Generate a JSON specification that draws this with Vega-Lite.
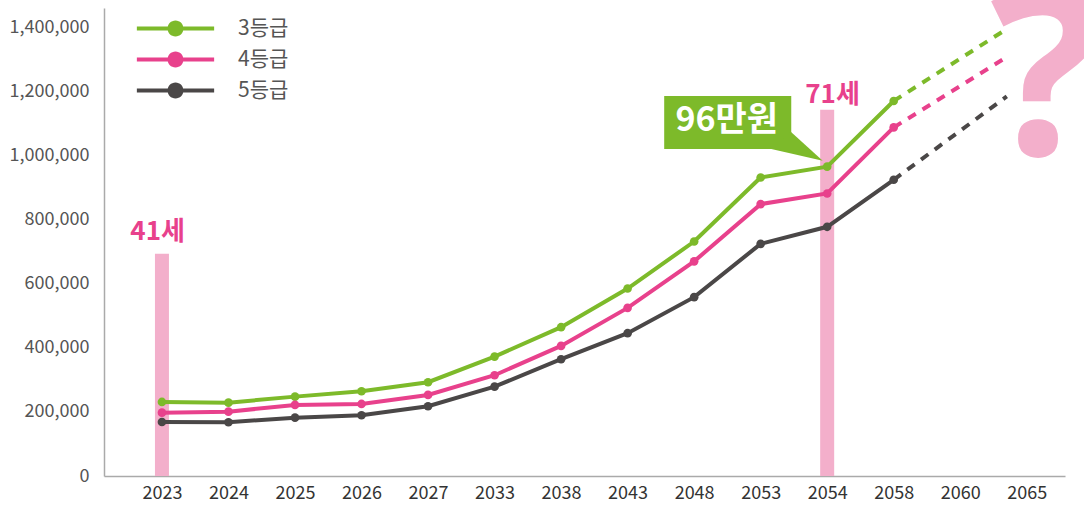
{
  "$schema": "https://vega.github.io/schema/vega-lite/v6.json",
  "width": 961,
  "height": 468,
  "autosize": {"type": "none"},
  "padding": {"left": 104, "top": 8, "right": 19, "bottom": 31},
  "background": "white",
  "config": {"view": {"stroke": null}, "font": "Noto Sans CJK KR"},
  "datasets": {
    "series": [
      {"s": "3등급", "year": "2023", "pos": 0, "v": 231000, "seg": "solid"},
      {"s": "3등급", "year": "2024", "pos": 1, "v": 228800, "seg": "solid"},
      {"s": "3등급", "year": "2025", "pos": 2, "v": 247600, "seg": "solid"},
      {"s": "3등급", "year": "2026", "pos": 3, "v": 264400, "seg": "solid"},
      {"s": "3등급", "year": "2027", "pos": 4, "v": 292500, "seg": "solid"},
      {"s": "3등급", "year": "2033", "pos": 5, "v": 372500, "seg": "solid"},
      {"s": "3등급", "year": "2038", "pos": 6, "v": 464200, "seg": "solid"},
      {"s": "3등급", "year": "2043", "pos": 7, "v": 584800, "seg": "solid"},
      {"s": "3등급", "year": "2048", "pos": 8, "v": 731500, "seg": "solid"},
      {"s": "3등급", "year": "2053", "pos": 9, "v": 931300, "seg": "solid"},
      {"s": "3등급", "year": "2054", "pos": 10, "v": 965000, "seg": "solid"},
      {"s": "3등급", "year": "2058", "pos": 11, "v": 1170000, "seg": "solid"},
      {"s": "3등급", "year": "2058", "pos": 11, "v": 1170000, "seg": "dash"},
      {"s": "3등급", "year": "2063", "pos": 12.7, "v": 1394600, "seg": "dash"},
      {"s": "4등급", "year": "2023", "pos": 0, "v": 197600, "seg": "solid"},
      {"s": "4등급", "year": "2024", "pos": 1, "v": 200700, "seg": "solid"},
      {"s": "4등급", "year": "2025", "pos": 2, "v": 221700, "seg": "solid"},
      {"s": "4등급", "year": "2026", "pos": 3, "v": 224800, "seg": "solid"},
      {"s": "4등급", "year": "2027", "pos": 4, "v": 252900, "seg": "solid"},
      {"s": "4등급", "year": "2033", "pos": 5, "v": 314400, "seg": "solid"},
      {"s": "4등급", "year": "2038", "pos": 6, "v": 405900, "seg": "solid"},
      {"s": "4등급", "year": "2043", "pos": 7, "v": 524500, "seg": "solid"},
      {"s": "4등급", "year": "2048", "pos": 8, "v": 669700, "seg": "solid"},
      {"s": "4등급", "year": "2053", "pos": 9, "v": 848200, "seg": "solid"},
      {"s": "4등급", "year": "2054", "pos": 10, "v": 881300, "seg": "solid"},
      {"s": "4등급", "year": "2058", "pos": 11, "v": 1087400, "seg": "solid"},
      {"s": "4등급", "year": "2058", "pos": 11, "v": 1087400, "seg": "dash"},
      {"s": "4등급", "year": "2063", "pos": 12.7, "v": 1307200, "seg": "dash"},
      {"s": "5등급", "year": "2023", "pos": 0, "v": 168600, "seg": "solid"},
      {"s": "5등급", "year": "2024", "pos": 1, "v": 167700, "seg": "solid"},
      {"s": "5등급", "year": "2025", "pos": 2, "v": 182000, "seg": "solid"},
      {"s": "5등급", "year": "2026", "pos": 3, "v": 189500, "seg": "solid"},
      {"s": "5등급", "year": "2027", "pos": 4, "v": 217600, "seg": "solid"},
      {"s": "5등급", "year": "2033", "pos": 5, "v": 278800, "seg": "solid"},
      {"s": "5등급", "year": "2038", "pos": 6, "v": 364300, "seg": "solid"},
      {"s": "5등급", "year": "2043", "pos": 7, "v": 445500, "seg": "solid"},
      {"s": "5등급", "year": "2048", "pos": 8, "v": 557900, "seg": "solid"},
      {"s": "5등급", "year": "2053", "pos": 9, "v": 724300, "seg": "solid"},
      {"s": "5등급", "year": "2054", "pos": 10, "v": 777400, "seg": "solid"},
      {"s": "5등급", "year": "2058", "pos": 11, "v": 924100, "seg": "solid"},
      {"s": "5등급", "year": "2058", "pos": 11, "v": 924100, "seg": "dash"},
      {"s": "5등급", "year": "2063", "pos": 12.7, "v": 1184200, "seg": "dash"}
    ],
    "bars": [
      {"pos": 0, "v": 693000},
      {"pos": 10, "v": 1142700}
    ],
    "agelabels": [
      {"pos": -0.065, "v": 736800, "t": "41세"},
      {"pos": 10.08, "v": 1164500, "t": "71세"}
    ],
    "question": [
      {"pos": 13.28, "v": 1001500, "t": "?"}
    ],
    "callbox": [
      {"pos": 7.55, "pos2": 9.46, "v": 1020200, "v2": 1185600}
    ],
    "pointer": [
      {"pos": 9.16, "v": 1020240, "v2": 1020240},
      {"pos": 9.457, "v": 1073300, "v2": 1006200},
      {"pos": 9.933, "v": 983700, "v2": 983700}
    ],
    "calltext": [
      {"pos": 8.49, "v": 1107600, "t": "96만원"}
    ]
  },
  "encoding": {
    "x": {
      "field": "pos",
      "type": "quantitative",
      "scale": {"domain": [-0.796, 13.5], "nice": false, "zero": false},
      "axis": {
        "values": [0, 1, 2, 3, 4, 5, 6, 7, 8, 9, 10, 11, 12, 13],
        "labelExpr": "['2023','2024','2025','2026','2027','2033','2038','2043','2048','2053','2054','2058','2060','2065'][datum.value]",
        "title": null,
        "grid": false,
        "ticks": false,
        "domainColor": "#aaaaaa",
        "domainWidth": 1.5,
        "labelFont": "Noto Sans CJK KR",
        "labelFontSize": 18,
        "labelColor": "#333333",
        "labelPadding": 8
      }
    },
    "y": {
      "field": "v",
      "type": "quantitative",
      "scale": {"domain": [0, 1460000], "nice": false},
      "axis": {
        "values": [0, 200000, 400000, 600000, 800000, 1000000, 1200000, 1400000],
        "format": ",d",
        "title": null,
        "grid": false,
        "ticks": false,
        "domainColor": "#aaaaaa",
        "domainWidth": 1.5,
        "labelFont": "Noto Sans CJK KR",
        "labelFontSize": 18,
        "labelColor": "#555555",
        "labelPadding": 15
      }
    },
    "color": {
      "field": "s",
      "type": "nominal",
      "scale": {"domain": ["3등급", "4등급", "5등급"], "range": ["#7dba2a", "#e8418c", "#4a4747"]},
      "legend": {
        "title": null,
        "orient": "none",
        "legendX": 61,
        "legendY": 10,
        "padding": 0,
        "symbolType": "M-4.83,-0.25H4.83V0.25H-4.83Z M-1,0A1,1 0 1,1 1,0A1,1 0 1,1 -1,0Z",
        "symbolSize": 256,
        "symbolStrokeWidth": 0,
        "symbolOpacity": 1,
        "labelFont": "Noto Sans CJK KR",
        "labelFontSize": 21,
        "labelColor": "#555555",
        "labelOffset": 52,
        "rowPadding": 9,
        "encode": {
          "symbols": {
            "update": {
              "fill": {"scale": "color", "field": "value"},
              "stroke": {"value": "transparent"}
            }
          }
        }
      }
    }
  },
  "layer": [
    {
      "data": {"name": "bars"},
      "mark": {"type": "bar", "size": 14, "color": "#f3afcb"},
      "encoding": {"color": {"value": "#f3afcb"}}
    },
    {
      "data": {"name": "agelabels"},
      "mark": {"type": "text", "font": "Noto Sans CJK KR", "fontWeight": "bold", "fontSize": 26, "align": "center", "baseline": "alphabetic"},
      "encoding": {"text": {"field": "t"}, "color": {"value": "#e8418c"}}
    },
    {
      "data": {"name": "question"},
      "mark": {"type": "text", "font": "Noto Sans", "fontWeight": "bold", "fontSize": 232, "align": "center", "baseline": "alphabetic"},
      "encoding": {"text": {"field": "t"}, "color": {"value": "#f3afcb"}}
    },
    {
      "data": {"name": "series"},
      "transform": [{"filter": "datum.seg == 'solid'"}],
      "mark": {"type": "line", "strokeWidth": 4}
    },
    {
      "data": {"name": "series"},
      "transform": [{"filter": "datum.seg == 'dash'"}],
      "mark": {"type": "line", "strokeWidth": 4, "strokeDash": [9, 8]}
    },
    {
      "data": {"name": "series"},
      "transform": [{"filter": "datum.seg == 'solid'"}],
      "mark": {"type": "point", "filled": true, "size": 75, "opacity": 1}
    },
    {
      "data": {"name": "callbox"},
      "mark": {"type": "rect"},
      "encoding": {"x2": {"field": "pos2"}, "y2": {"field": "v2"}, "color": {"value": "#7dba2a"}}
    },
    {
      "data": {"name": "pointer"},
      "mark": {"type": "area", "orient": "vertical"},
      "encoding": {"y2": {"field": "v2"}, "color": {"value": "#7dba2a"}}
    },
    {
      "data": {"name": "calltext"},
      "mark": {"type": "text", "font": "Noto Sans CJK KR", "fontWeight": "bold", "fontSize": 34, "align": "center", "baseline": "middle"},
      "encoding": {"text": {"field": "t"}, "color": {"value": "white"}}
    }
  ]
}
